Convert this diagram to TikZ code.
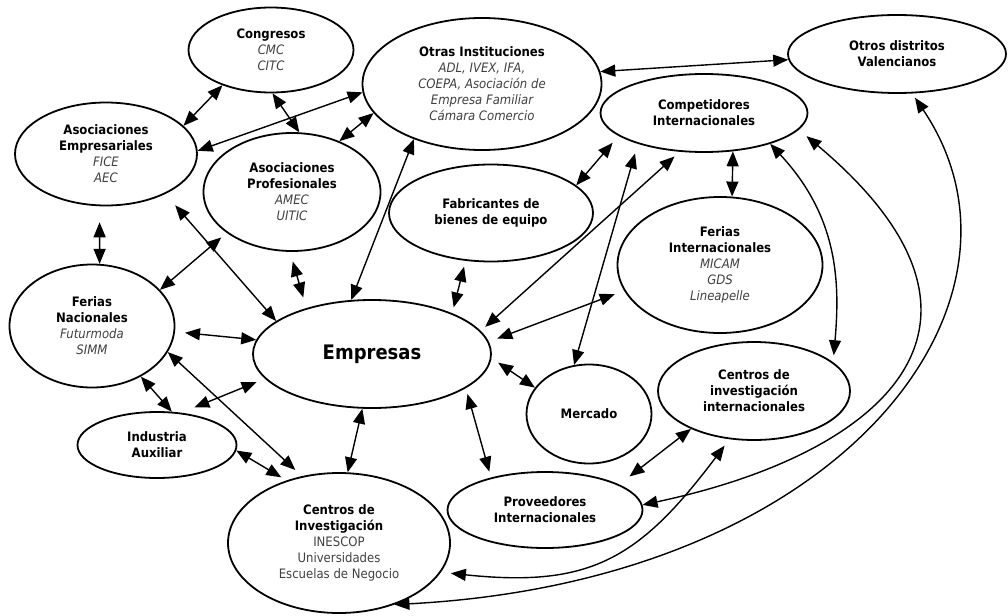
\documentclass[tikz,border=0pt]{standalone}
\usepackage{fontspec}
\IfFontExistsTF{DejaVu Sans Condensed}
  {\setmainfont{DejaVu Sans Condensed}}
  {\setmainfont{Liberation Sans}}
\usepackage{tikz}
\usetikzlibrary{shapes.geometric,arrows.meta}
\definecolor{gristexto}{gray}{0.25}
\newcommand{\miembro}[1]{{\mdseries\itshape\color{gristexto}#1}}
\newcommand{\plano}[1]{{\mdseries\upshape\color{gristexto}#1}}

\begin{document}
\begin{tikzpicture}[
  x=1pt, y=-1pt,
  actor/.style={draw, ellipse, line width=1.8pt, inner sep=0pt, align=center,
                font=\fontsize{13}{16}\selectfont\bfseries},
  ejes/.style 2 args={minimum width=#1pt, minimum height=#2pt},
  conn/.style={{Triangle[length=15pt,width=12pt]}-{Triangle[length=15pt,width=12pt]},
               line width=1.4pt}
]
  \useasboundingbox (0,0) rectangle (1008,615);

  \node[actor, ejes={165}{85}] (congresos) at (271,50)
    {Congresos\\\miembro{CMC}\\\miembro{CITC}};
  \node[actor, ejes={182}{103}] (asocemp) at (106,154)
    {Asociaciones\\Empresariales\\\miembro{FICE}\\\miembro{AEC}};
  \node[actor, ejes={177}{118}] (asocprof) at (292,192)
    {Asociaciones\\Profesionales\\\miembro{AMEC}\\\miembro{UITIC}};
  \node[actor, ejes={239}{132}] (otras) at (482,84)
    {Otras Instituciones\\\miembro{ADL, IVEX, IFA,}\\\miembro{COEPA, Asociación de}\\
     \miembro{Empresa Familiar}\\\miembro{Cámara Comercio}};
  \node[actor, ejes={218}{78}] (otrosdist) at (897,54) {Otros distritos\\Valencianos};
  \node[actor, ejes={207}{78}] (compet) at (704,113) {Competidores\\Internacionales};
  \node[actor, ejes={204}{97}] (fabric) at (491,213) {Fabricantes de\\bienes de equipo};
  \node[actor, ejes={205}{136}] (feriasint) at (720,265)
    {Ferias\\Internacionales\\\miembro{MICAM}\\\miembro{GDS}\\\miembro{Lineapelle}};
  \node[actor, ejes={165}{123}] (feriasnac) at (92,326)
    {Ferias\\Nacionales\\\miembro{Futurmoda}\\\miembro{SIMM}};
  \node[actor, ejes={238}{108}, font=\fontsize{20}{24}\selectfont\bfseries]
    (empresas) at (372,354) {Empresas};
  \node[actor, ejes={159}{66}] (indaux) at (157,445) {Industria\\Auxiliar};
  \node[actor, ejes={222}{140}] (centinv) at (339,543)
    {Centros de\\Investigación\\\plano{INESCOP}\\\plano{Universidades}\\
     \plano{Escuelas de Negocio}};
  \node[actor, ejes={125}{99}] (mercado) at (589,414) {Mercado};
  \node[actor, ejes={195}{76}] (proveed) at (545,510) {Proveedores\\Internacionales};
  \node[actor, ejes={192}{98}] (centint) at (754,391)
    {Centros de\\investigación\\internacionales};

  \draw[conn] (congresos.216) -- (asocemp.20);
  \draw[conn] (congresos.272) -- (asocprof.83);
  \draw[conn] (otras.184) -- (asocemp.2);
  \draw[conn] (otras.195) -- (asocprof.47);
  \draw[conn] (otras.219) -- (empresas.111);
  \draw[conn] (otras.6) -- (otrosdist.183);
  \draw[conn, shorten <=16pt] (asocemp.263) -- (feriasnac.83);
  \draw[conn, shorten <=15pt] (asocemp.326) -- (empresas.161);
  \draw[conn, shorten <=7pt] (asocprof.212) -- (feriasnac.28);
  \draw[conn, shorten <=10pt, shorten >=11pt] (asocprof.268) -- (empresas.145);
  \draw[conn, shorten <=10pt] (feriasnac.356) -- (empresas.173);
  \draw[conn] (feriasnac.314) -- (indaux.66);
  \draw[conn, shorten >=9pt] (feriasnac.341) -- (centinv.119);
  \draw[conn, shorten <=14pt, shorten >=9pt] (indaux.53) -- (empresas.193);
  \draw[conn, shorten >=6pt] (indaux.356) -- (centinv.130);
  \draw[conn] (empresas.260) -- (centinv.83);
  \draw[conn, shorten <=6pt, shorten >=6pt] (fabric.242) -- (empresas.27);
  \draw[conn, shorten <=7pt, shorten >=6pt] (compet.238) -- (empresas.12);
  \draw[conn, shorten <=10pt, shorten >=9pt] (feriasint.195) -- (empresas.6);
  \draw[conn, shorten <=8pt] (empresas.358) -- (mercado.154);
  \draw[conn, shorten <=6pt, shorten >=6pt] (empresas.340) -- (proveed.149);
  \draw[conn, shorten >=9pt] (fabric.18) -- (compet.195);
  \draw[conn, shorten <=10pt] (compet.205) -- (mercado.107);
  \draw[conn] (compet.307) -- (feriasint.80);
  \draw[conn, shorten <=13pt] (proveed.19) -- (centint.211);

  % curvas largas por la derecha
  \draw[conn, shorten >=7pt] (compet.335)
    to[out=-47, in=85, out distance=100pt, in distance=80pt] (centint.20);
  \draw[conn, shorten <=10pt] (compet.350)
    to[out=-40, in=12, out distance=300pt, in distance=250pt] (proveed.3);
  \draw[conn, shorten <=8pt, shorten >=10pt] (centint.243)
    to[out=233, in=-6, out distance=150pt, in distance=150pt] (centinv.344);
  \draw[conn, shorten <=5pt] (otrosdist.291)
    to[out=-56, in=3, out distance=250pt, in distance=450pt] (centinv.312);
\end{tikzpicture}
\end{document}
